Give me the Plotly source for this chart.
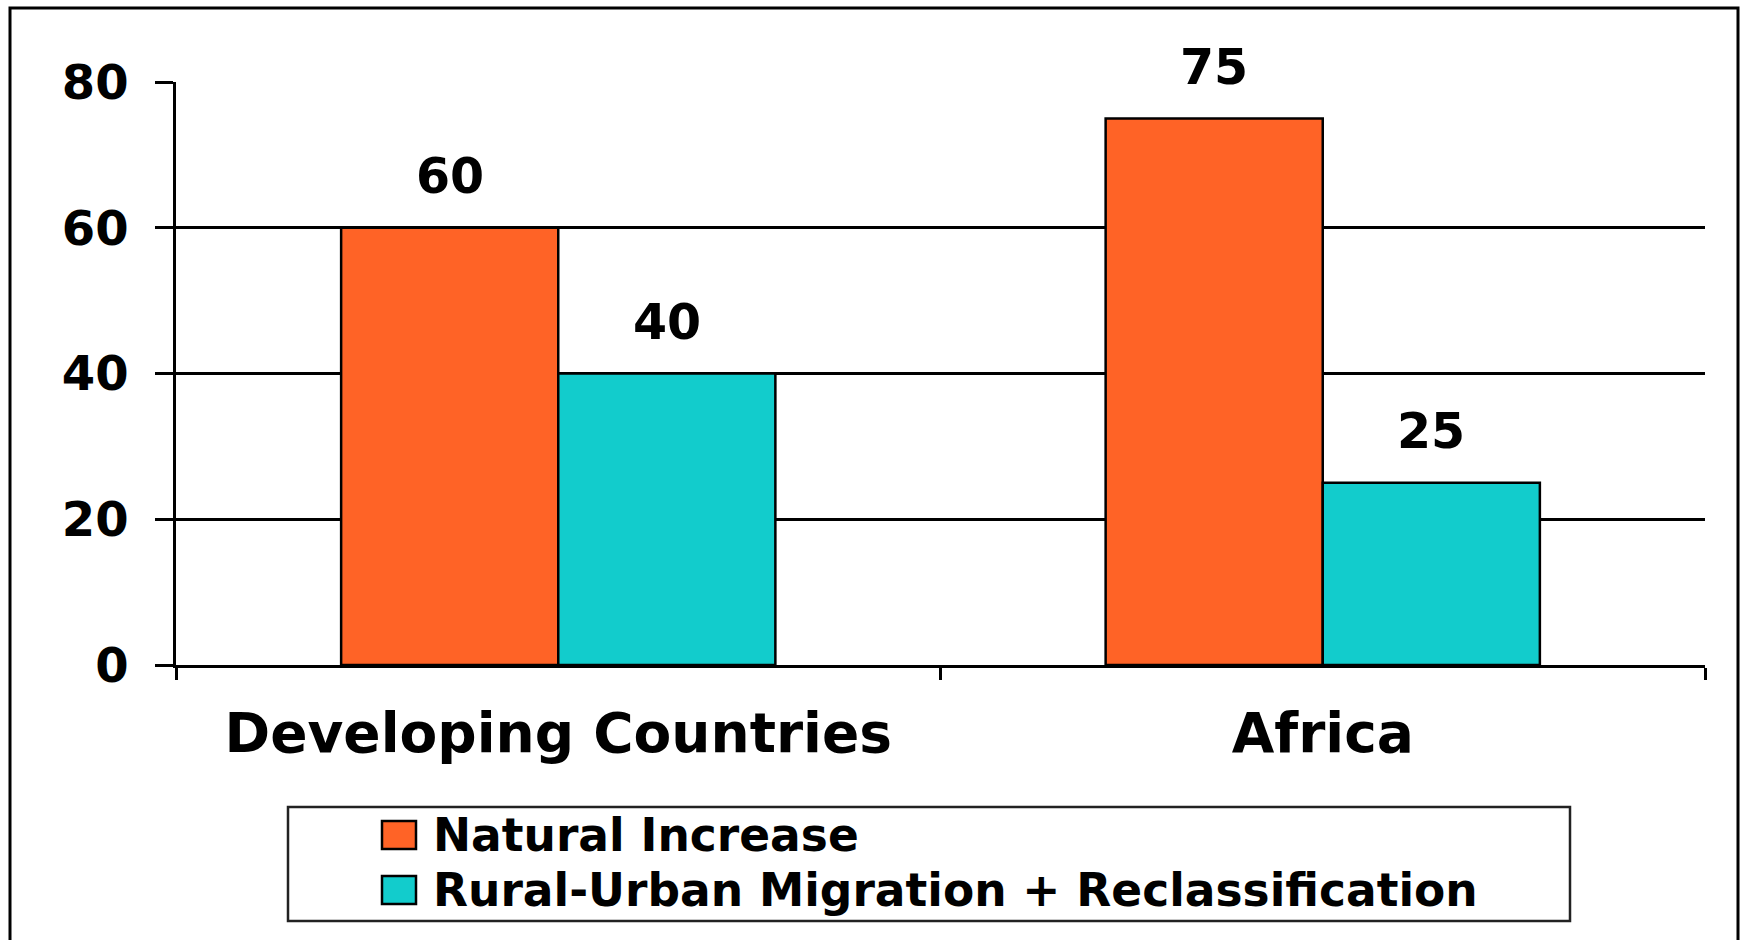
import plotly.graph_objects as go

# Share of urban growth by source (%)
categories = ["Developing Countries", "Africa"]
series_names = ["Natural Increase", "Rural-Urban Migration + Reclassification"]
natural_increase = [60, 75]
migration_reclass = [40, 25]
y_ticks = [0, 20, 40, 60, 80]

series_values = [natural_increase, migration_reclass]
colors = ["#FF6326", "#12CCCC"]

W, H = 1741, 940
L, R, T, B = 176, 36, 82, 275
FONT = "DejaVu Sans"
BARGAP = 0.432


def px_x(x):
    return (x - L) / (W - L - R)


def px_y(y):
    return (H - B - y) / (H - T - B)


fig = go.Figure()
for name, vals, color in zip(series_names, series_values, colors):
    fig.add_bar(
        x=categories, y=vals, name=name, showlegend=False,
        marker=dict(color=color, line=dict(color="black", width=2.5)),
    )

# value labels above each bar
half = (1 - BARGAP) / 4
annotations = []
for k, vals in enumerate(series_values):
    off = -half if k == 0 else half
    for i, v in enumerate(vals):
        annotations.append(dict(
            x=i + off, y=v, xref="x", yref="y", text=str(v), showarrow=False,
            yanchor="middle", yshift=51,
            font=dict(family=FONT, size=49, color="black", weight="bold"),
        ))

shapes = []
# outer frame
shapes.append(dict(type="rect", xref="paper", yref="paper",
                   x0=px_x(10), x1=px_x(1738), y0=px_y(960), y1=px_y(8),
                   line=dict(color="black", width=3), fillcolor="rgba(0,0,0,0)"))
# legend box
shapes.append(dict(type="rect", xref="paper", yref="paper",
                   x0=px_x(288), x1=px_x(1570), y0=px_y(921), y1=px_y(807),
                   line=dict(color="#222", width=2.5), fillcolor="white"))
row_centers = [835, 890]
for name, color, cy in zip(series_names, colors, row_centers):
    shapes.append(dict(type="rect", xref="paper", yref="paper",
                       x0=px_x(382), x1=px_x(416), y0=px_y(cy + 14), y1=px_y(cy - 14),
                       line=dict(color="black", width=2.5), fillcolor=color))
    annotations.append(dict(
        x=px_x(431), y=px_y(cy), xref="paper", yref="paper", text=name,
        showarrow=False, xanchor="left", yanchor="middle",
        font=dict(family=FONT, size=45.5, color="black", weight="bold"),
    ))

fig.update_layout(
    width=W, height=H,
    margin=dict(l=L, r=R, t=T, b=B, pad=0),
    paper_bgcolor="white", plot_bgcolor="white",
    barmode="group", bargap=BARGAP, bargroupgap=0,
    font=dict(family=FONT, color="black", weight="bold"),
    shapes=shapes, annotations=annotations,
    xaxis=dict(
        type="category", tickson="boundaries", ticks="outside", ticklen=12,
        tickwidth=2.5, tickcolor="black", showline=True, linecolor="black",
        linewidth=2.5, showgrid=False, ticklabelstandoff=18,
        tickfont=dict(family=FONT, size=55, color="black", weight="bold"),
    ),
    yaxis=dict(
        range=[0, 80], tickvals=y_ticks, ticks="outside", ticklen=18,
        tickwidth=2.5, tickcolor="black", showline=True, linecolor="black",
        linewidth=2.5, showgrid=True, gridcolor="black", gridwidth=2.5,
        zeroline=False, ticklabelstandoff=17,
        tickfont=dict(family=FONT, size=48, color="black", weight="bold"),
    ),
)

fig.write_html("out.html")
